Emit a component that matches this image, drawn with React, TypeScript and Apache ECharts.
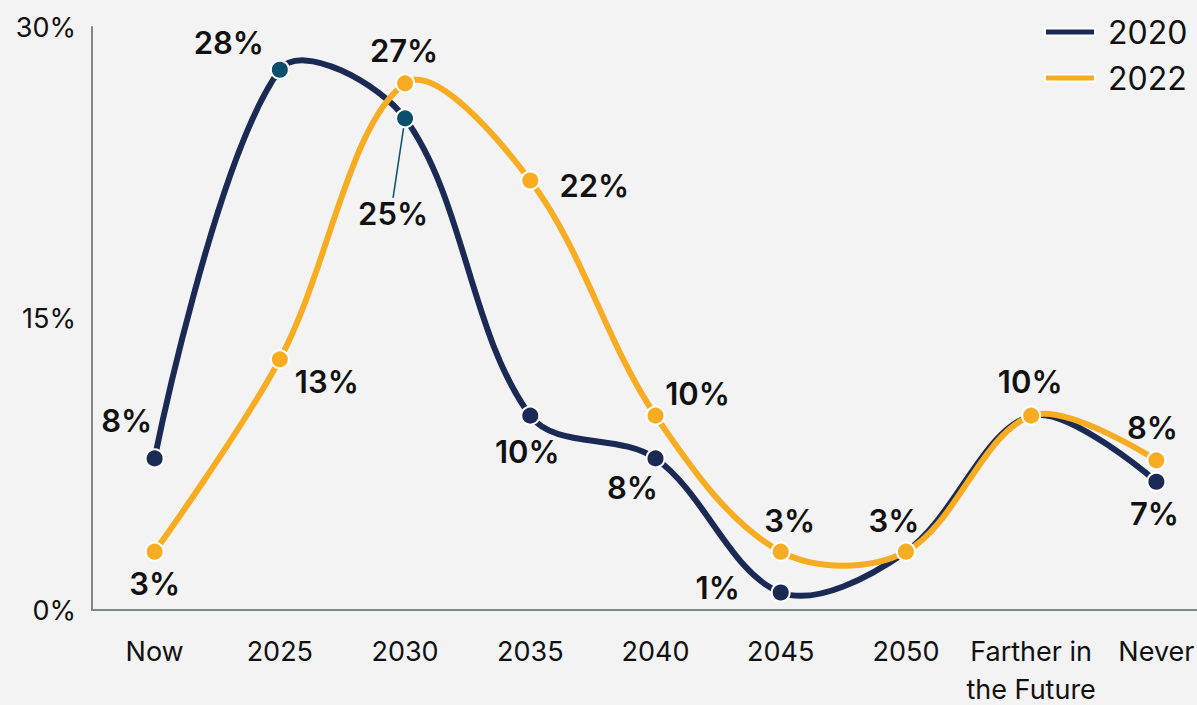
import React, { useEffect, useRef } from "react";
import * as echarts from "echarts";

const categories = ["Now", "2025", "2030", "2035", "2040", "2045", "2050", "Farther in\nthe Future", "Never"];
const values2020 = [7.8, 27.8, 25.3, 10, 7.8, 0.9, 3, 10, 6.6];
const values2022 = [3, 12.9, 27.1, 22.1, 10, 3, 3, 10, 7.7];
// label offsets [dx, dy] relative to each point; null hides the label
const offsets2020: ([number, number] | null)[] = [[-28, -38], [-51, -27], [-12, 95], [-3, 36], [-23, 29], [-63, -5], null, null, [-2, 32]];
const offsets2022: ([number, number] | null)[] = [[0, 32], [47, 22], [-1, -33], [64, 5], [42, -22], [9, -31], [-12, -31], [-1, -34], [-4, -33]];
const yTicks = [0, 15, 30];

const NAVY = "#1b2a55";
const TEAL = "#0c4f6b";
const ORANGE = "#f8ac22";
const FONT = "Inter";

export default function App() {
  const ref = useRef<HTMLDivElement>(null);
  useEffect(() => {
    if (!ref.current) return;
    const chart = echarts.init(ref.current, null, { renderer: "svg" });
    const labelBase = {
      show: true,
      position: "inside",
      fontFamily: FONT,
      fontSize: 31,
      fontWeight: 600,
      color: "#111",
      formatter: (p: any) => Math.round(p.value) + "%",
    };
    const data2020 = values2020.map((v, i) => {
      const item: any = {
        value: v,
        itemStyle: { color: i === 1 || i === 2 ? TEAL : NAVY },
        label: offsets2020[i] ? { ...labelBase } : { show: false },
      };
      if (i === 2) {
        item.labelLine = { show: true, lineStyle: { color: TEAL, width: 1.5 } };
      }
      return item;
    });
    const data2022 = values2022.map((v, i) => ({
      value: v,
      label: offsets2022[i] ? { ...labelBase } : { show: false },
    }));
    const makeCurve = (name: string, vals: number[], color: string, z: number) => ({
      name,
      type: "custom",
      coordinateSystem: "cartesian2d",
      clip: false,
      silent: true,
      z,
      data: vals.map((v, i) => [i, v]),
      encode: { x: 0, y: 1 },
      renderItem: (params: any, api: any) => {
        if (params.dataIndex !== 0) return { type: "group", children: [] };
        const pts = vals.map((v, i) => api.coord([i, v]));
        return {
          type: "polyline",
          shape: { points: pts, smooth: 0.34 },
          style: { stroke: color, lineWidth: 6, fill: "none" },
        };
      },
    });
    const layoutFrom = (offs: ([number, number] | null)[]) => (p: any) => {
      const o = offs[p.dataIndex];
      return o ? { dx: o[0], dy: o[1] } : {};
    };
    chart.setOption({
      animation: false,
      backgroundColor: "#f3f3f3",
      textStyle: { fontFamily: FONT },
      grid: { left: 92, top: 27, bottom: 95, width: 1127, outerBoundsMode: "none", containLabel: false },
      legend: {
        orient: "vertical",
        left: 1044,
        top: 16,
        padding: 0,
        icon: "rect",
        itemWidth: 50,
        itemHeight: 7,
        itemGap: 14,
        textStyle: { fontFamily: FONT, fontSize: 32, color: "#111", padding: [0, 0, 0, 8] },
        data: ["2020", "2022"],
      },
      xAxis: {
        type: "category",
        data: categories,
        boundaryGap: true,
        axisLine: { show: true, lineStyle: { color: "#7f8888", width: 2 } },
        axisTick: { show: false },
        axisLabel: { fontFamily: FONT, fontSize: 27, color: "#111", margin: 22, lineHeight: 38, interval: 0 },
      },
      yAxis: {
        type: "value",
        min: yTicks[0],
        max: yTicks[yTicks.length - 1],
        interval: 15,
        splitLine: { show: false },
        axisLine: { show: true, lineStyle: { color: "#7f8888", width: 2 } },
        axisTick: { show: false },
        axisLabel: { fontFamily: FONT, fontSize: 27, color: "#111", margin: 16, formatter: (v: number) => v + "%" },
      },
      series: [
        makeCurve("curve2020", values2020, NAVY, 2),
        {
          name: "2020",
          type: "line",
          data: data2020,
          color: NAVY,
          lineStyle: { color: NAVY, width: 0, opacity: 0 },
          symbol: "circle",
          symbolSize: 18,
          showAllSymbol: true,
          itemStyle: { color: NAVY, borderColor: "#fff", borderWidth: 2 },
          labelLayout: layoutFrom(offsets2020),
          z: 3,
        },
        makeCurve("curve2022", values2022, ORANGE, 4),
        {
          name: "2022",
          type: "line",
          data: data2022,
          color: ORANGE,
          lineStyle: { color: ORANGE, width: 0, opacity: 0 },
          symbol: "circle",
          symbolSize: 18,
          showAllSymbol: true,
          itemStyle: { color: ORANGE, borderColor: "#fff", borderWidth: 2 },
          labelLayout: layoutFrom(offsets2022),
          z: 5,
        },
      ],
    });
    return () => chart.dispose();
  }, []);
  return (
    <div
      ref={ref}
      style={{ position: "absolute", left: 0, top: 0, width: 1197, height: 705, background: "#f3f3f3" }}
    />
  );
}
